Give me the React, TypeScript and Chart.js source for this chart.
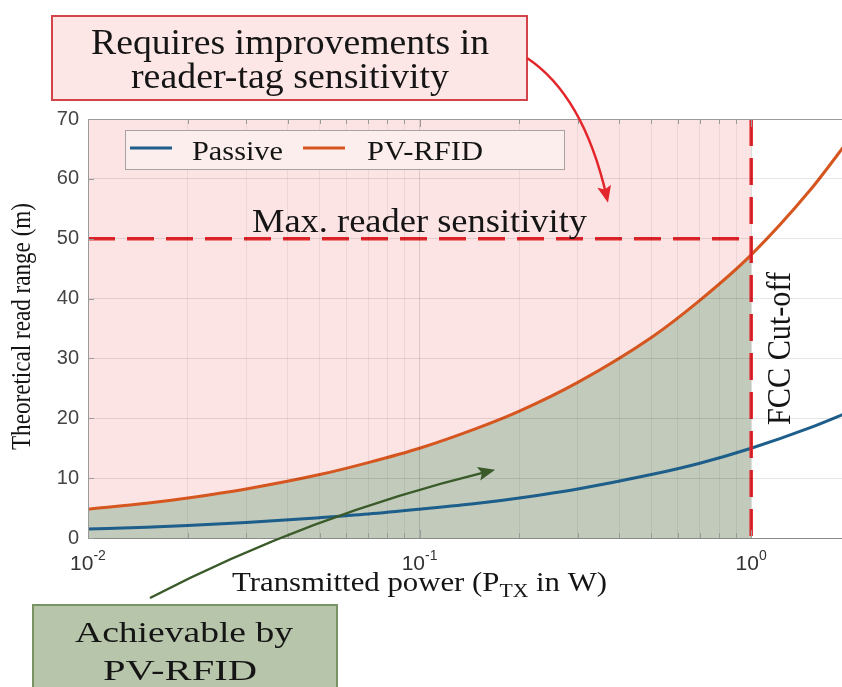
import React, { useEffect, useRef } from 'react';
import { Chart, registerables } from 'chart.js';

Chart.register(...registerables);

// ---- Data ----
const POWER_W = [0.01, 0.015, 0.02, 0.03, 0.05, 0.07, 0.1, 0.15, 0.2, 0.3, 0.5, 0.7, 1, 1.5, 2];
const PASSIVE_M = [1.5, 1.8, 2.1, 2.6, 3.4, 4.0, 4.8, 5.8, 6.7, 8.2, 10.6, 12.5, 15.0, 18.4, 21.2];
const PVRFID_M = [4.8, 5.8, 6.7, 8.2, 10.6, 12.6, 15.0, 18.4, 21.2, 26.0, 33.5, 39.7, 47.3, 58.0, 67.0];

const X_MIN = 0.01;
const X_MAX = 2;
const Y_MIN = 0;
const Y_MAX = 70;
const Y_STEP = 10;
const FCC_LIMIT_W = 1;
const MAX_SENSITIVITY_M = 50;

const X_GRID_VALUES = [
  0.01, 0.02, 0.03, 0.04, 0.05, 0.06, 0.07, 0.08, 0.09,
  0.1, 0.2, 0.3, 0.4, 0.5, 0.6, 0.7, 0.8, 0.9,
  1, 2,
];
const X_DECADES = [0.01, 0.1, 1];
const X_TICK_BASES = ['10', '10', '10'];
const X_TICK_EXPONENTS = ['-2', '-1', '0'];

// annotation anchor points (data coordinates)
const RED_ARROW_TIP = { x: 0.37, y: 56 };
const GREEN_ARROW_TIP = { x: 0.169, y: 11.4 };

const SERIF = '"Liberation Serif", "Times New Roman", serif';
const SANS = '"Liberation Sans", Arial, sans-serif';

const BLUE = '#1d5e8a';
const ORANGE = '#d5561f';
const RED = '#e3262c';
const PINK = '#fde4e4';
const SAGE = '#c1cabb';
const TEXT = '#151515';

function fitText(
  ctx: CanvasRenderingContext2D,
  text: string,
  x: number,
  y: number,
  size: number,
  width: number,
  align: 'center' | 'left' = 'center',
  rotation = 0,
) {
  ctx.save();
  ctx.font = `${size}px ${SERIF}`;
  const w = ctx.measureText(text).width;
  ctx.translate(x, y);
  if (rotation) ctx.rotate(rotation);
  ctx.scale(width / w, 1);
  ctx.textAlign = align;
  ctx.textBaseline = 'alphabetic';
  ctx.fillStyle = TEXT;
  ctx.fillText(text, 0, 0);
  ctx.restore();
}

function arrowHead(ctx: CanvasRenderingContext2D, tx: number, ty: number, ang: number, len: number, half: number, color: string) {
  ctx.save();
  ctx.translate(tx, ty);
  ctx.rotate(ang);
  ctx.beginPath();
  ctx.moveTo(0, 0);
  ctx.lineTo(-len, -half);
  ctx.lineTo(-len * 0.8, 0);
  ctx.lineTo(-len, half);
  ctx.closePath();
  ctx.fillStyle = color;
  ctx.fill();
  ctx.restore();
}

const overlayPlugin = {
  id: 'overlay',
  afterDraw(chart: any) {
    const { ctx, chartArea: a, scales } = chart;
    const x = scales.x;
    const y = scales.y;
    ctx.save();

    // spines + inward ticks
    ctx.strokeStyle = '#9a9a9a';
    ctx.lineWidth = 1;
    ctx.beginPath();
    ctx.moveTo(a.left, a.top + 0.5);
    ctx.lineTo(a.right, a.top + 0.5);
    X_GRID_VALUES.forEach((v) => {
      const px = Math.round(x.getPixelForValue(v)) + 0.5;
      const len = X_DECADES.includes(v) ? 8 : 5;
      ctx.moveTo(px, a.bottom);
      ctx.lineTo(px, a.bottom - len);
      ctx.moveTo(px, a.top);
      ctx.lineTo(px, a.top + len);
    });
    for (let v = Y_MIN; v <= Y_MAX; v += Y_STEP) {
      const py = Math.round(y.getPixelForValue(v)) + 0.5;
      ctx.moveTo(a.left, py);
      ctx.lineTo(a.left + 6, py);
    }
    ctx.stroke();

    // x tick labels 10^n
    ctx.fillStyle = '#333';
    ctx.textBaseline = 'alphabetic';
    ctx.textAlign = 'left';
    X_DECADES.forEach((v, i) => {
      const px = x.getPixelForValue(v);
      ctx.font = `21px ${SANS}`;
      const w1 = ctx.measureText(X_TICK_BASES[i]).width;
      ctx.font = `14px ${SANS}`;
      const w2 = ctx.measureText(X_TICK_EXPONENTS[i]).width;
      const sx = px - (w1 + w2) / 2;
      ctx.font = `21px ${SANS}`;
      ctx.fillText(X_TICK_BASES[i], sx, 570);
      ctx.font = `14px ${SANS}`;
      ctx.fillText(X_TICK_EXPONENTS[i], sx + w1, 560);
    });

    // x title with subscript
    {
      const parts = [
        { t: 'Transmitted power (P', s: 27, dy: 0 },
        { t: 'TX', s: 19, dy: 6 },
        { t: ' in W)', s: 27, dy: 0 },
      ];
      const widths = parts.map((p) => {
        ctx.font = `${p.s}px ${SERIF}`;
        return ctx.measureText(p.t).width;
      });
      const total = widths.reduce((s, w) => s + w, 0);
      const target = 375;
      const k = target / total;
      ctx.save();
      ctx.translate(419.5 - target / 2, 591);
      ctx.scale(k, 1);
      ctx.fillStyle = TEXT;
      let cx = 0;
      parts.forEach((p, i) => {
        ctx.font = `${p.s}px ${SERIF}`;
        ctx.fillText(p.t, cx, p.dy);
        cx += widths[i];
      });
      ctx.restore();
    }

    // y title
    fitText(ctx, 'Theoretical read range (m)', 30, 326.5, 28, 247, 'center', -Math.PI / 2);

    // in-plot labels
    fitText(ctx, 'Max. reader sensitivity', 419.5, 232, 33, 335);
    fitText(ctx, 'FCC Cut-off', 790, 348.5, 34, 153, 'center', -Math.PI / 2);

    // legend
    ctx.fillStyle = '#fdeeee';
    ctx.fillRect(125, 130, 440, 40);
    ctx.strokeStyle = '#a9a2a2';
    ctx.lineWidth = 1;
    ctx.strokeRect(125.5, 130.5, 439, 39);
    ctx.lineWidth = 3;
    ctx.strokeStyle = BLUE;
    ctx.beginPath();
    ctx.moveTo(130, 148);
    ctx.lineTo(172, 148);
    ctx.stroke();
    ctx.strokeStyle = ORANGE;
    ctx.beginPath();
    ctx.moveTo(303, 148);
    ctx.lineTo(345, 148);
    ctx.stroke();
    fitText(ctx, 'Passive', 192, 160, 27, 91, 'left');
    fitText(ctx, 'PV-RFID', 367, 160, 27, 116, 'left');

    // red annotation box
    ctx.fillStyle = '#fde6e6';
    ctx.fillRect(52, 16, 475, 84);
    ctx.strokeStyle = '#d2444a';
    ctx.lineWidth = 2;
    ctx.strokeRect(52, 16, 475, 84);
    fitText(ctx, 'Requires improvements in', 290, 54, 35, 398);
    fitText(ctx, 'reader-tag sensitivity', 290, 88, 35, 318);

    // red curved arrow
    const rtx = x.getPixelForValue(RED_ARROW_TIP.x);
    const rty = y.getPixelForValue(RED_ARROW_TIP.y);
    const cp = { x: 583, y: 95 };
    ctx.strokeStyle = RED;
    ctx.lineWidth = 2.5;
    ctx.beginPath();
    ctx.moveTo(527, 58);
    ctx.quadraticCurveTo(cp.x, cp.y, rtx - 1.5, rty - 7);
    ctx.stroke();
    arrowHead(ctx, rtx, rty, Math.atan2(rty - cp.y, rtx - cp.x), 17, 7, RED);

    // green box
    ctx.fillStyle = '#b7c5aa';
    ctx.fillRect(33, 605, 304, 100);
    ctx.strokeStyle = '#7a9364';
    ctx.lineWidth = 2;
    ctx.strokeRect(33, 605, 304, 100);
    fitText(ctx, 'Achievable by', 184, 642, 30, 218);
    fitText(ctx, 'PV-RFID', 180, 680, 30, 154);

    // green (slightly curved) arrow
    const gtx = x.getPixelForValue(GREEN_ARROW_TIP.x);
    const gty = y.getPixelForValue(GREEN_ARROW_TIP.y);
    const gs = { x: 150, y: 598 };
    const gc = { x: 310, y: 515 };
    const gang = Math.atan2(gty - gc.y, gtx - gc.x);
    ctx.strokeStyle = '#3a5a2a';
    ctx.lineWidth = 2.5;
    ctx.beginPath();
    ctx.moveTo(gs.x, gs.y);
    ctx.quadraticCurveTo(gc.x, gc.y, gtx - 10 * Math.cos(gang), gty - 10 * Math.sin(gang));
    ctx.stroke();
    arrowHead(ctx, gtx, gty, gang, 17, 7, '#3a5a2a');

    ctx.restore();
  },
};

export default function App() {
  const ref = useRef<HTMLCanvasElement>(null);

  useEffect(() => {
    const canvas = ref.current;
    if (!canvas) return;
    const toPts = (ys: number[]) => POWER_W.map((p, i) => ({ x: p, y: ys[i] }));
    const fillPts = toPts(PVRFID_M).filter((p) => p.x <= FCC_LIMIT_W);

    const chart = new Chart(canvas, {
      type: 'line',
      data: {
        datasets: [
          {
            label: 'Passive',
            data: toPts(PASSIVE_M),
            borderColor: BLUE,
            borderWidth: 3,
            pointRadius: 0,
            cubicInterpolationMode: 'monotone',
            fill: false,
            order: 3,
          },
          {
            label: 'PV-RFID',
            data: toPts(PVRFID_M),
            borderColor: ORANGE,
            borderWidth: 3,
            pointRadius: 0,
            cubicInterpolationMode: 'monotone',
            fill: false,
            order: 2,
          },
          {
            label: 'Achievable by PV-RFID',
            data: fillPts,
            borderColor: 'transparent',
            borderWidth: 0,
            backgroundColor: SAGE,
            fill: 'origin',
            pointRadius: 0,
            cubicInterpolationMode: 'monotone',
            order: 9,
          },
          {
            label: 'Requires improvements',
            data: [
              { x: X_MIN, y: Y_MAX },
              { x: FCC_LIMIT_W, y: Y_MAX },
            ],
            borderColor: 'transparent',
            borderWidth: 0,
            backgroundColor: PINK,
            fill: 'origin',
            pointRadius: 0,
            order: 10,
          },
          {
            label: 'Max. reader sensitivity',
            data: [
              { x: X_MIN, y: MAX_SENSITIVITY_M },
              { x: FCC_LIMIT_W, y: MAX_SENSITIVITY_M },
            ],
            borderColor: RED,
            borderWidth: 3.5,
            borderDash: [27, 12],
            pointRadius: 0,
            fill: false,
            order: 1,
          },
          {
            label: 'FCC Cut-off',
            data: [
              { x: FCC_LIMIT_W, y: Y_MAX },
              { x: FCC_LIMIT_W, y: Y_MIN },
            ],
            borderColor: RED,
            borderWidth: 3.5,
            borderDash: [27, 12],
            pointRadius: 0,
            fill: false,
            order: 1,
          },
        ],
      },
      options: {
        responsive: false,
        animation: false,
        layout: { padding: { left: 0, top: 119, right: 9, bottom: 149 } },
        plugins: {
          legend: { display: false },
          tooltip: { enabled: false },
        },
        scales: {
          x: {
            type: 'logarithmic',
            min: X_MIN,
            max: X_MAX,
            afterBuildTicks: (s: any) => {
              s.ticks = X_GRID_VALUES.map((v) => ({ value: v, major: X_DECADES.includes(v) }));
            },
            afterFit: (s: any) => {
              s.height = 0;
            },
            ticks: { display: false },
            grid: {
              z: 1,
              drawTicks: false,
              color: (c: any) =>
                c.tick && X_DECADES.includes(c.tick.value) ? 'rgba(0,0,0,0.13)' : 'rgba(0,0,0,0.06)',
            },
            border: { display: true, color: '#9a9a9a', width: 1, z: 1 },
          },
          y: {
            min: Y_MIN,
            max: Y_MAX,
            afterFit: (s: any) => {
              s.width = 88;
            },
            ticks: {
              stepSize: Y_STEP,
              padding: 9,
              color: '#444',
              font: { family: '"Liberation Sans", Arial, sans-serif', size: 20 },
            },
            grid: { z: 1, drawTicks: false, color: 'rgba(0,0,0,0.1)' },
            border: { display: true, color: '#9a9a9a', width: 1, z: 1 },
          },
        },
      },
      plugins: [overlayPlugin],
    } as any);

    return () => chart.destroy();
  }, []);

  return (
    <div
      style={{
        position: 'fixed',
        left: 0,
        top: 0,
        width: 842,
        height: 687,
        overflow: 'hidden',
        background: '#fff',
      }}
    >
      <canvas ref={ref} width={860} height={687} style={{ width: 860, height: 687, display: 'block' }} />
    </div>
  );
}
